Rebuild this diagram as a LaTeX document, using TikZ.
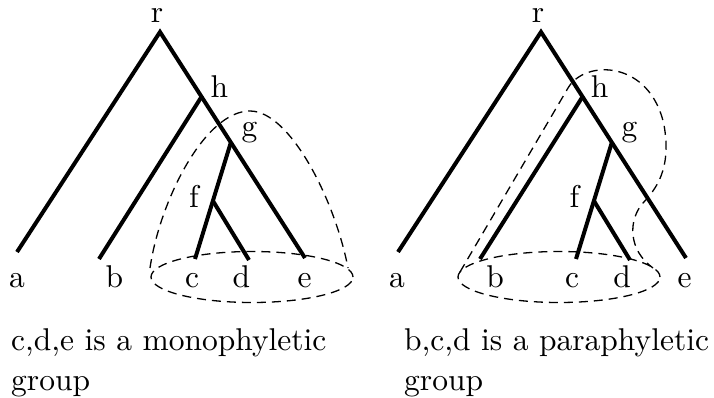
\documentclass[tikz,border=0pt]{standalone}
\usepackage{fontspec}
\setmainfont[Extension=.otf]{lmroman10-regular}
\usetikzlibrary{shapes.geometric}
\newcommand\lblfont{\fontsize{31.5}{40}\selectfont}
\tikzset{
  edge/.style={line width=4pt, line join=miter},
  grp/.style={line width=1.3pt, dash pattern=on 9pt off 6pt},
  lbl/.style={anchor=base, inner sep=0pt, font=\lblfont},
  captxt/.style={anchor=base west, inner sep=0pt, font=\lblfont}
}
\begin{document}
\begin{tikzpicture}[x=1pt,y=-1pt]
\useasboundingbox (0,0) rectangle (714,398);
% ---------- left tree ----------
\coordinate (Lr) at (160,32);
\coordinate (Lh) at (202,96);
\coordinate (Lg) at (231,142);
\coordinate (Lf) at (213,201);
\coordinate (La) at (17,252);
\coordinate (Lb) at (99,259);
\coordinate (Lc) at (195,259);
\coordinate (Ld) at (249,260);
\coordinate (Le) at (305,258);
\draw[edge] (La) -- (Lr) -- (Le);
\draw[edge] (Lb) -- (Lh);
\draw[edge] (Lc) -- (Lg);
\draw[edge] (Lf) -- (Ld);
\node[lbl] (Lrl) at (157,23) {r};
\node[lbl] (Lhl) at (219.5,98) {h};
\node[lbl] (Lgl) at (249.5,137) {g};
\node[lbl] (Lfl) at (194,207) {f};
\node[lbl] (Lal) at (17,287) {a};
\node[lbl] (Lbl) at (114.5,287) {b};
\node[lbl] (Lcl) at (192,287) {c};
\node[lbl] (Ldl) at (241.5,287) {d};
\node[lbl] (Lel) at (304.5,287) {e};
\node[draw, grp, ellipse, minimum width=202pt, minimum height=51pt, inner sep=0pt] (Lell) at (252,277) {};
\coordinate (Ld0) at (150,268);
\coordinate (Ld1) at (250,111);
\coordinate (Ld2) at (348,268);
\draw[grp] (Ld0) .. controls (160,200) and (205,111) .. (Ld1)
                 .. controls (290,111) and (335,200) .. (Ld2);
% ---------- right tree ----------
\coordinate (Rr) at (541,32);
\coordinate (Rh) at (583,96);
\coordinate (Rg) at (612,142);
\coordinate (Rf) at (594,201);
\coordinate (Ra) at (398,252);
\coordinate (Rb) at (480,259);
\coordinate (Rc) at (576,259);
\coordinate (Rd) at (630,260);
\coordinate (Re) at (686,258);
\draw[edge] (Ra) -- (Rr) -- (Re);
\draw[edge] (Rb) -- (Rh);
\draw[edge] (Rc) -- (Rg);
\draw[edge] (Rf) -- (Rd);
\node[lbl] (Rrl) at (538,23) {r};
\node[lbl] (Rhl) at (599.5,98) {h};
\node[lbl] (Rgl) at (629.5,137) {g};
\node[lbl] (Rfl) at (574.5,207) {f};
\node[lbl] (Ral) at (397,287) {a};
\node[lbl] (Rbl) at (495,287) {b};
\node[lbl] (Rcl) at (572,287) {c};
\node[lbl] (Rdl) at (622,287) {d};
\node[lbl] (Rel) at (684.5,287) {e};
\node[draw, grp, ellipse, minimum width=202pt, minimum height=51pt, inner sep=0pt] (Rell) at (559,277) {};
\coordinate (Rp0) at (460,272);
\coordinate (Rp1) at (568,88);
\coordinate (Rp2) at (664,125);
\coordinate (Rp3) at (643,203);
\coordinate (Rp4) at (653,268);
\draw[grp] (Rp0) -- (Rp1) .. controls (585,59) and (650,60) .. (Rp2)
           .. controls (672,170) and (655,190) .. (Rp3)
           .. controls (628,220) and (628,250) .. (Rp4);
% ---------- captions ----------
\node[captxt] (cap1a) at (11,350) {c,d,e is a monophyletic};
\node[captxt] (cap1b) at (11,390) {group};
\node[captxt] (cap2a) at (404,350) {b,c,d is a paraphyletic};
\node[captxt] (cap2b) at (404,390) {group};
\end{tikzpicture}
\end{document}
